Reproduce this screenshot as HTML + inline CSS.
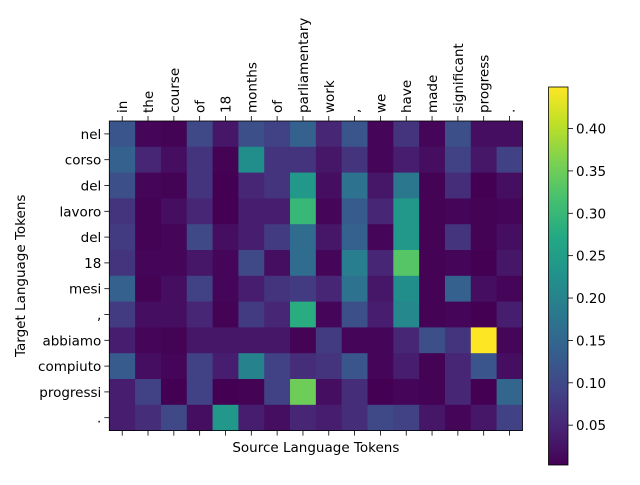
<!DOCTYPE html>
<html><head><meta charset="utf-8"><style>
body{margin:0;background:#fff}
svg text{font-family:"DejaVu Sans","Liberation Sans",sans-serif;font-size:13.5px;fill:#000}
</style></head><body>
<svg id="chart" width="640" height="480" xmlns="http://www.w3.org/2000/svg">
<defs><linearGradient id="cbg" x1="0" y1="1" x2="0" y2="0"></linearGradient></defs>
<g id="cells"></g>
<g id="axes"></g>
</svg>
<script>
const sourceTokens = ["in","the","course","of","18","months","of","parliamentary","work",",","we","have","made","significant","progress","."];
const targetTokens = ["nel","corso","del","lavoro","del","18","mesi",",","abbiamo","compiuto","progressi","."];
const rowNel = [0.12,0.01,0.005,0.10,0.03,0.11,0.09,0.14,0.05,0.12,0.01,0.07,0.01,0.11,0.02,0.02];
const rowCorso = [0.14,0.05,0.02,0.07,0.005,0.22,0.07,0.07,0.03,0.07,0.01,0.04,0.02,0.09,0.03,0.09];
const rowDel1 = [0.11,0.01,0.005,0.07,0.003,0.05,0.07,0.24,0.02,0.17,0.03,0.18,0.005,0.06,0.003,0.02];
const rowLavoro = [0.07,0.005,0.02,0.05,0.003,0.04,0.04,0.30,0.01,0.13,0.05,0.24,0.005,0.01,0.005,0.01];
const rowDel2 = [0.08,0.005,0.01,0.10,0.02,0.04,0.08,0.16,0.03,0.14,0.01,0.24,0.005,0.07,0.005,0.02];
const row18 = [0.07,0.01,0.01,0.03,0.01,0.10,0.02,0.16,0.01,0.19,0.05,0.33,0.005,0.01,0.003,0.03];
const rowMesi = [0.14,0.005,0.02,0.09,0.01,0.04,0.07,0.08,0.05,0.17,0.03,0.22,0.005,0.14,0.02,0.01];
const rowComma = [0.08,0.02,0.02,0.05,0.005,0.08,0.05,0.28,0.01,0.11,0.04,0.21,0.005,0.01,0.003,0.04];
const rowAbbiamo = [0.04,0.01,0.005,0.03,0.03,0.03,0.03,0.005,0.08,0.01,0.01,0.05,0.11,0.07,0.449,0.01];
const rowCompiuto = [0.13,0.02,0.01,0.09,0.04,0.20,0.09,0.06,0.07,0.12,0.01,0.04,0.005,0.05,0.12,0.02];
const rowProgressi = [0.04,0.09,0.003,0.09,0.003,0.005,0.09,0.35,0.02,0.06,0.003,0.01,0.005,0.05,0.003,0.15];
const rowPeriod = [0.04,0.06,0.10,0.02,0.24,0.04,0.02,0.05,0.04,0.06,0.10,0.09,0.03,0.01,0.03,0.09];
const matrix = [rowNel,rowCorso,rowDel1,rowLavoro,rowDel2,row18,rowMesi,rowComma,rowAbbiamo,rowCompiuto,rowProgressi,rowPeriod];
const cbTicks = [0.05,0.10,0.15,0.20,0.25,0.30,0.35,0.40];
const vmin = 0.003, vmax = 0.449;

const VIR = ["#440154","#482475","#414487","#355f8d","#2a788e","#21918c","#22a884","#44bf70","#7ad151","#bddf26","#fde725"];
function hex(h){return [1,3,5].map(i=>parseInt(h.substr(i,2),16));}
function viridis(t){t=Math.max(0,Math.min(1,t));const p=t*10,i=Math.min(9,Math.floor(p)),f=p-i;
 const a=hex(VIR[i]),b=hex(VIR[i+1]);return "rgb("+a.map((v,k)=>Math.round(v+(b[k]-v)*f)).join(",")+")";}

const NS="http://www.w3.org/2000/svg";
const X0=109.3, Y0=121, CW=25.82, CH=25.8;
const xPos=i=>X0+i*CW, yPos=j=>Y0+j*CH;
function mk(tag,attrs,parent,txt){const e=document.createElementNS(NS,tag);for(const k in attrs)e.setAttribute(k,attrs[k]);if(txt!==undefined)e.textContent=txt;parent.appendChild(e);return e;}
const cells=document.getElementById("cells"), axes=document.getElementById("axes");

matrix.forEach((row,j)=>row.forEach((v,i)=>{
 const r=mk("rect",{x:xPos(i),y:yPos(j),width:CW+0.4,height:CH+0.4,fill:viridis((v-vmin)/(vmax-vmin))},cells);
 
 
}));
const W=CW*sourceTokens.length, H=CH*targetTokens.length;
const fr=mk("rect",{x:X0,y:Y0,width:W,height:H,fill:"none",stroke:"#000","stroke-width":0.8},axes);



sourceTokens.forEach((t,i)=>{
 const cx=xPos(i)+CW/2;
 mk("line",{x1:cx,x2:cx,y1:Y0,y2:Y0-5,stroke:"#000","stroke-width":0.8},axes);
 mk("line",{x1:cx,x2:cx,y1:Y0+H,y2:Y0+H+5,stroke:"#000","stroke-width":0.8},axes);
 const tx=mk("text",{x:0,y:0,transform:`translate(${cx+5},${Y0-8}) rotate(-90)`},axes,t);
 
 
});
targetTokens.forEach((t,j)=>{
 const cy=yPos(j)+CH/2;
 mk("line",{x1:X0,x2:X0-5,y1:cy,y2:cy,stroke:"#000","stroke-width":0.8},axes);
 const tx=mk("text",{x:X0-8,y:cy+5,"text-anchor":"end"},axes,t);
 
 
});
const xl=mk("text",{x:X0+W/2,y:452,"text-anchor":"middle"},axes,"Source Language Tokens");


const yl=mk("text",{x:0,y:0,"text-anchor":"middle",transform:`translate(25,${Y0+H/2}) rotate(-90)`},axes,"Target Language Tokens");



const grad=document.getElementById("cbg");
for(let k=0;k<=20;k++) mk("stop",{offset:k/20,"stop-color":viridis(k/20)},grad);
const CB={x:548.5,y:87,w:19.5,h:378};
const cbY=v=>CB.y+CB.h-(v-vmin)/(vmax-vmin)*CB.h;
const cb=mk("rect",{x:CB.x,y:CB.y,width:CB.w,height:CB.h,fill:"url(#cbg)",stroke:"#000","stroke-width":0.8},axes);


cbTicks.forEach(v=>{
 const y=cbY(v);
 mk("line",{x1:CB.x+CB.w,x2:CB.x+CB.w+5,y1:y,y2:y,stroke:"#000","stroke-width":0.8},axes);
 const tx=mk("text",{x:CB.x+CB.w+8,y:y+5},axes,v.toFixed(2));
 
 
});
</script>
</body></html>
